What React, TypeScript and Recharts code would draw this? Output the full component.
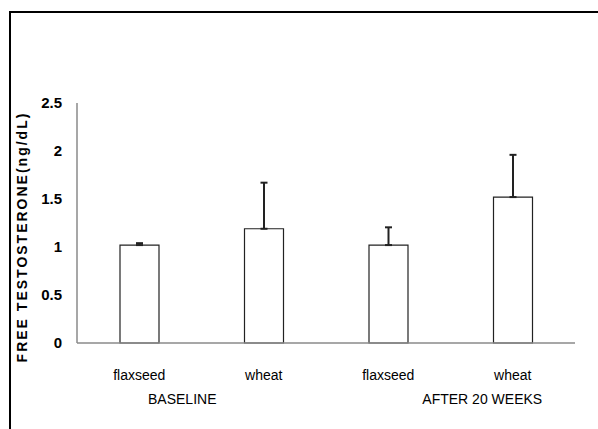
import React from "react";
import { BarChart, Bar, XAxis, YAxis, ErrorBar, Label } from "recharts";

const categories = ["flaxseed", "wheat", "flaxseed", "wheat"];
const groupLabels = ["BASELINE", "", "AFTER 20 WEEKS", ""];
const groupOffsets = [43, 0, 94, 0];
const means = [1.02, 1.19, 1.02, 1.52];
const errors = [0.02, 0.48, 0.185, 0.44];
const yTicks = [0, 0.5, 1, 1.5, 2, 2.5];
const yTitle = "FREE TESTOSTERONE(ng/dL)";

const data = categories.map((name, i) => ({
  name,
  group: groupLabels[i],
  value: means[i],
  err: [0, errors[i]],
}));

const FONT = "'Liberation Sans', Arial, sans-serif";

const XTick = (props: any) => {
  const { x, y, index, payload } = props;
  const g = groupLabels[index];
  return (
    <g>
      <text x={x} y={y + 29} textAnchor="middle" fontFamily={FONT} fontSize={14} fill="#000">
        {payload.value}
      </text>
      {g ? (
        <text x={x + groupOffsets[index]} y={y + 53} textAnchor="middle" fontFamily={FONT} fontSize={14} fill="#000">
          {g}
        </text>
      ) : null}
    </g>
  );
};

const YTitle = () => (
  <text
    transform="translate(27,237) rotate(-90)"
    textAnchor="middle"
    fontFamily={FONT}
    fontWeight="bold"
    fontSize={14}
    letterSpacing={2}
    fill="#000"
  >
    {yTitle}
  </text>
);

export default function App() {
  return (
    <div style={{ position: "absolute", left: 0, top: 0, width: 598, height: 429, overflow: "hidden", background: "#fff" }}>
      <div style={{ position: "absolute", left: 9, top: 11, width: 700, height: 600, borderLeft: "2px solid #000", borderTop: "2px solid #000" }} />
      <div style={{ position: "absolute", left: 0, top: 0 }}>
        <BarChart width={598} height={429} data={data} margin={{ top: 103, right: 23, bottom: 0, left: 0 }} barSize={39}>
          <XAxis
            dataKey="name"
            tickLine={false}
            axisLine={{ stroke: "#8a8a8a", strokeWidth: 1.5 }}
            tick={<XTick />}
            interval={0}
            height={86}
          />
          <YAxis
            width={77}
            domain={[0, 2.5]}
            ticks={yTicks}
            tickLine={false}
            tickSize={6}
            tickMargin={9}
            axisLine={{ stroke: "#8a8a8a", strokeWidth: 1.5 }}
            tick={{ fill: "#000", fontSize: 15, fontFamily: FONT, fontWeight: "bold" }}
          >
            <Label content={<YTitle />} />
          </YAxis>
          <Bar dataKey="value" fill="#fff" stroke="#222" strokeWidth={1.2} isAnimationActive={false}>
            <ErrorBar dataKey="err" width={3.5} stroke="#222" strokeWidth={2} direction="y" />
          </Bar>
        </BarChart>
      </div>
    </div>
  );
}
